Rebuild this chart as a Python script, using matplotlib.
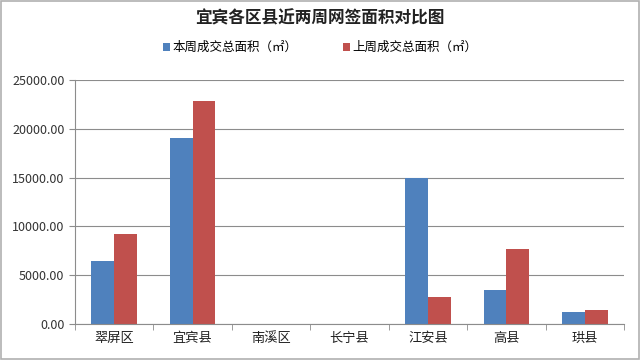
import numpy as np
import matplotlib
matplotlib.use("Agg")
import matplotlib.pyplot as plt
from matplotlib.patches import Rectangle

plt.rcParams['font.family'] = ['Noto Sans CJK SC', 'DejaVu Sans']

districts = ["翠屏区", "宜宾县", "南溪区", "长宁县", "江安县", "高县", "珙县"]
this_week = [6450, 19050, 0, 0, 14980, 3480, 1200]
last_week = [9220, 22850, 0, 0, 2800, 7680, 1400]
series_names = ["本周成交总面积（㎡）", "上周成交总面积（㎡）"]
yticks = [0, 5000, 10000, 15000, 20000, 25000]

fig = plt.figure(figsize=(6.4, 3.6), dpi=100)
ax = fig.add_axes([0.117, 0.1, 0.858, 0.678])

x = np.arange(len(districts))
w = 0.29
b1 = ax.bar(x - w / 2, this_week, w, color="#4F81BD", label=series_names[0])
b2 = ax.bar(x + w / 2, last_week, w, color="#C0504D", label=series_names[1])

ax.set_xlim(-0.5, len(districts) - 0.5)
ax.set_ylim(0, 25000)
ax.set_yticks(yticks)
ax.set_yticklabels([f"{v:.2f}" for v in yticks], fontsize=9, color="#333333")
ax.yaxis.grid(True, color="#8c8c8c", linewidth=0.8)
ax.set_axisbelow(True)

# category labels centred, tick marks between categories
ax.set_xticks(x)
ax.set_xticklabels(districts, fontsize=9.5, color="#222222")
ax.tick_params(axis="x", length=0, pad=6)
ax.set_xticks(np.arange(-0.5, len(districts)), minor=True)
ax.tick_params(axis="x", which="minor", length=4, color="#8c8c8c")
ax.tick_params(axis="y", length=4, color="#8c8c8c")

for s in ["top", "right"]:
    ax.spines[s].set_visible(False)
for s in ["left", "bottom"]:
    ax.spines[s].set_color("#8c8c8c")

fig.text(0.5, 0.948, "宜宾各区县近两周网签面积对比图", ha="center", va="center",
         fontsize=12, fontweight="bold", color="#222222")
fig.legend(handles=[b1, b2], loc="center", bbox_to_anchor=(0.5, 0.868), ncol=2,
           frameon=False, fontsize=9, handlelength=0.6, handleheight=0.6,
           handletextpad=0.2, columnspacing=3.6)

fig.patches.append(Rectangle((0.002, 0.003), 0.996, 0.994, transform=fig.transFigure,
                             fill=False, edgecolor="#b0b0b0", linewidth=1.2))

fig.savefig("out.png", dpi=100)
